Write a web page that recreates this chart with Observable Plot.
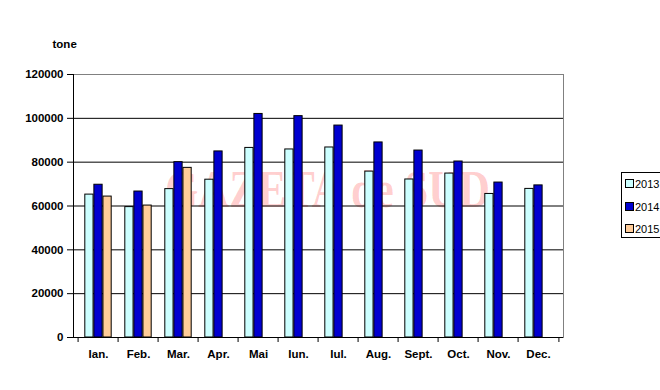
<!DOCTYPE html>
<html>
<head>
<meta charset="utf-8">
<script src="https://cdn.jsdelivr.net/npm/d3@7"></script>
<script src="https://cdn.jsdelivr.net/npm/@observablehq/plot@0.6"></script>
<style>
  html, body { margin: 0; padding: 0; background: #fff; overflow: hidden; }
  #wrap { position: relative; width: 660px; height: 390px; }
  #legend { position: absolute; left: 621px; top: 172px; width: 60px; height: 66px;
    border: 1px solid #000; background: #fff; font: 11px "Liberation Sans", Arial, sans-serif; box-sizing: border-box; }
  #legend .item { position: absolute; left: 3px; height: 14px; line-height: 14px; white-space: nowrap; }
  #legend .sw { display: inline-block; width: 7px; height: 7px; border: 1px solid #000; margin-right: 1px; vertical-align: 0px; }
</style>
</head>
<body>
<div id="wrap"></div>
<script>
const months = ["Ian.","Feb.","Mar.","Apr.","Mai","Iun.","Iul.","Aug.","Sept.","Oct.","Nov.","Dec."];
const years = ["2013","2014","2015"];
const values2013 = [65200, 59500, 67700, 72000, 86500, 85800, 86700, 75700, 72100, 74800, 65500, 67800];
const values2014 = [69700, 66600, 80000, 84900, 102000, 101000, 96700, 89000, 85300, 80300, 70700, 69400];
const values2015 = [64300, 60200, 77400];
const yTicks = [0, 20000, 40000, 60000, 80000, 100000, 120000];
const colors = ["#CCFFFF", "#0000D0", "#FFCC99"];
const yLabel = "tone";
const watermark = "GAZETA de SUD";

const series = [values2013, values2014, values2015];
const data = [];
series.forEach((vals, s) => vals.forEach((v, i) => data.push({month: months[i], year: years[s], value: v})));

const W = 660, H = 390, mL = 73, mR = 97, mT = 74, mB = 53;
const step = (W - mL - mR) / months.length;
const bw = step / 4.5;          // Excel gap width 150%
const gap = bw * 0.75;

const barMarks = years.map((yr, s) => Plot.barY(data.filter(d => d.year === yr), {
  x: "month", y: "value", fill: colors[s], stroke: "#000", strokeWidth: 1,
  insetLeft: gap + s * bw, insetRight: step - gap - (s + 1) * bw
}));

const chart = Plot.plot({
  width: W, height: H,
  marginLeft: mL, marginRight: mR, marginTop: mT, marginBottom: mB,
  style: {fontFamily: "'Liberation Sans', Arial, sans-serif", fontSize: "11.5px", fontWeight: "bold", background: "#fff"},
  x: {type: "band", domain: months, padding: 0},
  y: {domain: [0, 120000]},
  marks: [
    Plot.text([watermark], {frameAnchor: "middle", dx: 9, dy: -16, fontSize: 52,
      fontFamily: "'Liberation Serif', 'Times New Roman', serif", fontWeight: "bold",
      fill: "#ff0000", fillOpacity: 0.2}),
    Plot.frame({stroke: "#808080"}),
    Plot.ruleY(yTicks.filter(t => t > 0 && t < 120000), {stroke: "#000"}),
    ...barMarks,
    Plot.ruleY([0], {stroke: "#000"}),
    Plot.frame({anchor: "left", stroke: "#000"}),
    Plot.axisY(yTicks, {tickSize: 6, tickPadding: 4, tickFormat: d => String(d), label: null, stroke: "#000"}),
    Plot.axisX({tickSize: 5, text: null, dx: -step / 2, label: null, stroke: "#000"}),
    Plot.axisX([months[months.length - 1]], {tickSize: 5, text: null, dx: step / 2, label: null, stroke: "#000"}),
    Plot.axisX({tickSize: 0, tickPadding: 12, label: null}),
    Plot.text([yLabel], {frameAnchor: "top-left", dx: -21, dy: -35})
  ]
});

const wm = d3.select(chart).selectAll("g[font-size='52'] text");
wm.attr("textLength", 325).attr("lengthAdjust", "spacingAndGlyphs");

const wrap = document.getElementById("wrap");
wrap.appendChild(chart);

const legend = document.createElement("div");
legend.id = "legend";
years.forEach((yr, s) => {
  const item = document.createElement("div");
  item.className = "item";
  item.style.top = (4 + s * 22.5) + "px";
  const sw = document.createElement("span");
  sw.className = "sw";
  sw.style.background = colors[s];
  item.appendChild(sw);
  item.appendChild(document.createTextNode(yr));
  legend.appendChild(item);
});
wrap.appendChild(legend);
</script>
</body>
</html>
